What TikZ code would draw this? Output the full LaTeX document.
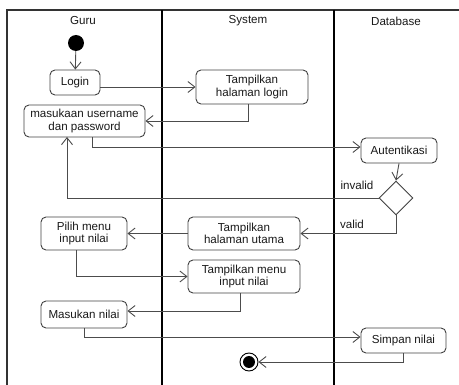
\documentclass[tikz,border=0pt]{standalone}
\usepackage{fontspec}
\setmainfont{Liberation Sans}
\usetikzlibrary{arrows.meta,shapes.geometric}
\begin{document}
\begin{tikzpicture}[x=1pt,y=-1pt,
  act/.style={draw=black!75,line width=0.9pt,rounded corners=5pt,align=center,inner sep=0pt,
    font=\fontsize{11.6}{12.2}\selectfont,text=black!90},
  arr/.style={draw=black!70,line width=0.9pt,-{Straight Barb[length=7pt,width=11pt,line width=0.9pt]}},
  lane/.style={draw=black,line width=1.8pt},
  frame/.style={draw=black!80,line width=1.1pt},
  lbl/.style={font=\fontsize{11.6}{12.2}\selectfont,text=black!90,inner sep=0pt}]
\useasboundingbox (0,0) rectangle (459,385);
% swimlanes
\draw[frame] (7,390) -- (7,10) -- (462,10);
\draw[lane] (162,10) -- (162,390);
\draw[lane] (334,10) -- (334,390);
\node[lbl] (hguru) at (83,21) {Guru};
\node[lbl] (hsys) at (248,21) {System};
\node[lbl] (hdb) at (396,21) {Database};
% nodes
\node[circle,fill=black,minimum size=16pt,inner sep=0pt] (start) at (76,43) {};
\node[act,minimum width=50pt,minimum height=25pt] (login) at (75,82.5) {Login};
\node[act,minimum width=112pt,minimum height=34pt] (tlogin) at (252,87) {Tampilkan\\halaman login};
\node[act,minimum width=121pt,minimum height=32pt] (masuk) at (84.5,121) {masukaan username\\dan password};
\node[act,minimum width=76pt,minimum height=25pt] (auth) at (399,150.5) {Autentikasi};
\node[diamond,draw=black!75,line width=0.9pt,minimum width=34pt,minimum height=34pt,inner sep=0pt] (dia) at (396,198) {};
\node[act,minimum width=112pt,minimum height=33pt] (tutama) at (244,233.5) {Tampilkan\\halaman utama};
\node[act,minimum width=86pt,minimum height=33pt] (pilih) at (84,233.5) {Pilih menu\\input nilai};
\node[act,minimum width=112pt,minimum height=33pt] (tmenu) at (244,276.5) {Tampilkan menu\\input nilai};
\node[act,minimum width=86pt,minimum height=27pt] (masukan) at (84,314.5) {Masukan nilai};
\node[act,minimum width=85pt,minimum height=25pt] (simpan) at (403.5,340.5) {Simpan nilai};
\node[circle,draw=black,line width=0.9pt,minimum size=18pt,inner sep=0pt] (end) at (249,362) {};
\node[circle,fill=black,minimum size=12pt,inner sep=0pt] (endin) at (249,362) {};
\coordinate (iv) at (67,137);
% connectors
\draw[arr] (start) -- (login);
\draw[arr] (login.east |- tlogin.west) -- (tlogin.west);
\draw[arr] ([xshift=-4pt]tlogin.south) |- (masuk.east);
\draw[arr] ([xshift=7.5pt]masuk.south) |- ([yshift=3.5pt]auth.west);
\draw[arr] (auth.south) -- (dia.north);
\draw[arr] (dia.west) -| (iv);
\draw[arr] (dia.south) |- (tutama.east);
\draw[arr] (tutama.west) -- (pilih.east);
\draw[arr] ([xshift=-8pt]pilih.south) |- (tmenu.west);
\draw[arr] ([xshift=-4pt]tmenu.south) |- ([yshift=3.5pt]masukan.east);
\draw[arr] (masukan.south) |- ([yshift=3.5pt]simpan.west);
\draw[arr] (simpan.south) |- (end.east);
\node[lbl] (linv) at (357,185) {invalid};
\node[lbl] (lval) at (352,224) {valid};
\end{tikzpicture}
\end{document}
